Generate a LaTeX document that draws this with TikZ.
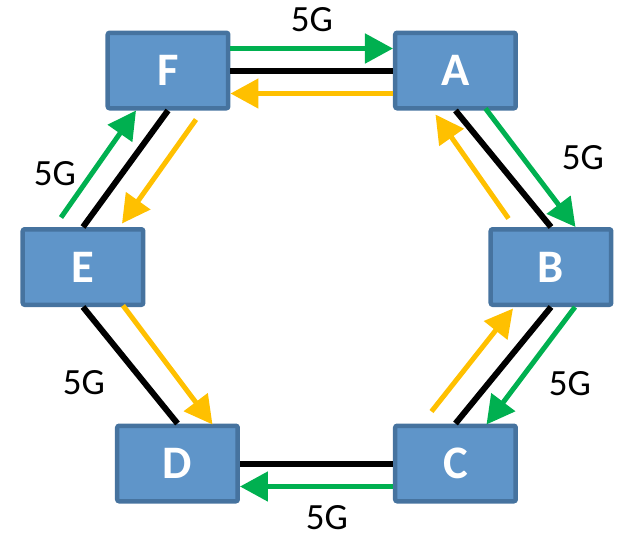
\documentclass[tikz,border=0pt]{standalone}
\usepackage{fontspec}
\setmainfont{Carlito}
\usepackage{tikz}
\usetikzlibrary{
  arrows.meta,
  positioning
}
\definecolor{rgBox}{HTML}{5F95C9}
\definecolor{rgEdge}{HTML}{46739F}
\definecolor{rgFwd}{HTML}{00B050}
\definecolor{rgBwd}{HTML}{FFC000}
\tikzset{
  ringbox/.style={
    draw=rgEdge, fill=rgBox, line width=2.25pt, rounded corners=1pt,
    minimum width=60.25pt, minimum height=37.75pt, inner sep=0pt, text=white,
    font=\fontsize{23.3}{28}\selectfont\bfseries
  },
  fiber/.style={line width=3pt, black},
  fwd/.style={-{Triangle[length=14pt,width=14.5pt]}, line width=2.5pt, rgFwd},
  bwd/.style={-{Triangle[length=14pt,width=14.5pt]}, line width=2.5pt, rgBwd},
  tag/.style={font=\fontsize{18.5}{22}\selectfont, inner sep=0pt}
}

\begin{document}
\begin{tikzpicture}[x=0.5pt, y=-0.5pt]
  \useasboundingbox (0,0) rectangle (618,538);

  % ring nodes
  \node[ringbox] (F) at (168,70.5) {F};
  \node[ringbox] (A) at (455.5,70.5) {A};
  \node[ringbox] (E) at (83,267) {E};
  \node[ringbox] (B) at (551,267) {B};
  \node[ringbox] (D) at (177.5,463.5) {D};
  \node[ringbox] (C) at (455.5,463.5) {C};

  % links
  \draw[fiber] (F.east) -- (A.west);
  \draw[fiber] (A.south) -- (B.north);
  \draw[fiber] (B.south) -- (C.north);
  \draw[fiber] (C.west) -- (D.east);
  \draw[fiber] (D.north) -- (E.south);
  \draw[fiber] (E.north) -- (F.south);

  % clockwise traffic
  \draw[fwd] ([shift={(-22,-9.5)}]E.north) -- ([shift={(-32,0)}]F.south);
  \draw[fwd] ([shift={(0,-22)}]F.east) -- ([shift={(0,-22)}]A.west);
  \draw[fwd] ([shift={(30,-2)}]A.south) -- ([shift={(24.5,0)}]B.north);
  \draw[fwd] ([shift={(24,0)}]B.south) -- ([shift={(31,1)}]C.north);
  \draw[fwd] ([shift={(0,23)}]C.west) -- ([shift={(0,23)}]D.east);

  % counter-clockwise traffic
  \draw[bwd] ([shift={(0,23)}]A.west) -- ([shift={(0,23)}]F.east);
  \draw[bwd] ([shift={(28,9)}]F.south) -- ([shift={(39,-3.5)}]E.north);
  \draw[bwd] ([shift={(40,-1.5)}]E.south) -- ([shift={(35,1)}]D.north);
  \draw[bwd] ([shift={(-24,-12)}]C.north) -- ([shift={(-38,1.5)}]B.south);
  \draw[bwd] ([shift={(-42.5,-8.5)}]B.north) -- ([shift={(-20,4)}]A.south);

  % rates
  \node[tag] (rFA) at (312,20) {5G};
  \node[tag] (rAB) at (583,158) {5G};
  \node[tag] (rBC) at (570,384) {5G};
  \node[tag] (rCD) at (327,518) {5G};
  \node[tag] (rDE) at (84,383) {5G};
  \node[tag] (rEF) at (55,174) {5G};
\end{tikzpicture}
\end{document}
